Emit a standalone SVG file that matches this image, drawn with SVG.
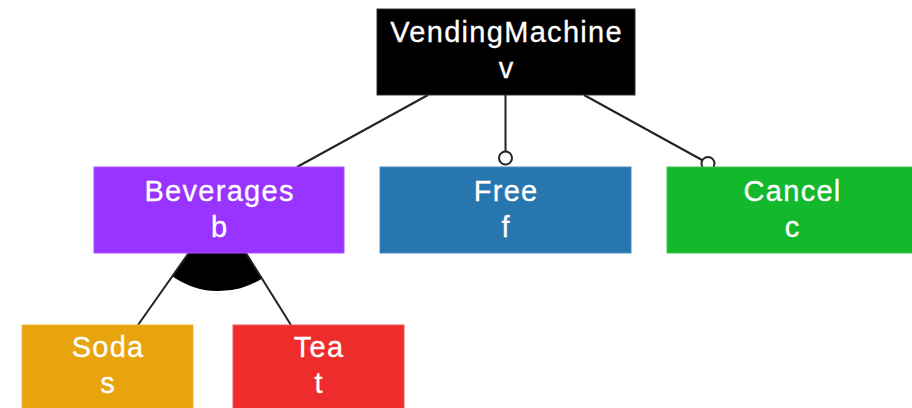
<svg xmlns="http://www.w3.org/2000/svg" width="912" height="408" viewBox="0 0 912 408">
  <style>
    .box { stroke-width: 1; }
    .label { font-family: "Liberation Sans", Arial, Helvetica, sans-serif; font-size: 29px; letter-spacing: 1.3px; fill: #ffffff; text-anchor: middle; stroke: #ffffff; stroke-width: 0.3; }
    .edge { stroke: #222222; stroke-width: 2; fill: none; }
    .opt { fill: #ffffff; stroke: #222222; stroke-width: 2; }
  </style>
  <rect width="912" height="408" fill="#ffffff"/>

  <!-- connectors: drawn first so the feature boxes sit on top -->
  <g id="connectors">
    <!-- mandatory: VendingMachine -> Beverages -->
    <line class="edge" x1="428" y1="95" x2="297" y2="167"/>
    <!-- optional: VendingMachine -> Free -->
    <line class="edge" x1="505.5" y1="95" x2="505.5" y2="151"/>
    <circle class="opt" cx="505.5" cy="158" r="6.5"/>
    <!-- optional: VendingMachine -> Cancel -->
    <line class="edge" x1="584" y1="95" x2="702" y2="160"/>
    <circle class="opt" cx="708" cy="163.5" r="6.5"/>
    <!-- or-group under Beverages -->
    <path d="M219,210 L171.9,276.1 A81,81 0 0,0 262.2,278.5 Z" fill="#000000"/>
    <line class="edge" x1="219" y1="210" x2="138" y2="325"/>
    <line class="edge" x1="219" y1="210" x2="291" y2="325"/>
  </g>

  <g id="node-vendingmachine">
    <rect class="box" x="377" y="9" width="258" height="86" fill="#000000" stroke="#333333"/>
    <text class="label" x="506.6" y="42">VendingMachine</text>
    <text class="label" x="506.6" y="78">v</text>
  </g>

  <g id="node-beverages">
    <rect class="box" x="94" y="167" width="250" height="86" fill="#9933ff" stroke="#a855ff"/>
    <text class="label" x="219.6" y="201">Beverages</text>
    <text class="label" x="219.6" y="237">b</text>
  </g>

  <g id="node-free">
    <rect class="box" x="380" y="167" width="251" height="86" fill="#2776b0" stroke="#4a8cc0"/>
    <text class="label" x="506.1" y="201">Free</text>
    <text class="label" x="506.1" y="237">f</text>
  </g>

  <g id="node-cancel">
    <rect class="box" x="667" y="167" width="250" height="86" fill="#14b82c" stroke="#40c455"/>
    <text class="label" x="792.6" y="201">Cancel</text>
    <text class="label" x="792.6" y="237">c</text>
  </g>

  <g id="node-soda">
    <rect class="box" x="22" y="325" width="171" height="86" fill="#e8a40c" stroke="#edb540"/>
    <text class="label" x="108.1" y="357">Soda</text>
    <text class="label" x="108.1" y="393">s</text>
  </g>

  <g id="node-tea">
    <rect class="box" x="233" y="325" width="171" height="86" fill="#ee2c2c" stroke="#f25555"/>
    <text class="label" x="319.1" y="357">Tea</text>
    <text class="label" x="319.1" y="393">t</text>
  </g>
</svg>
